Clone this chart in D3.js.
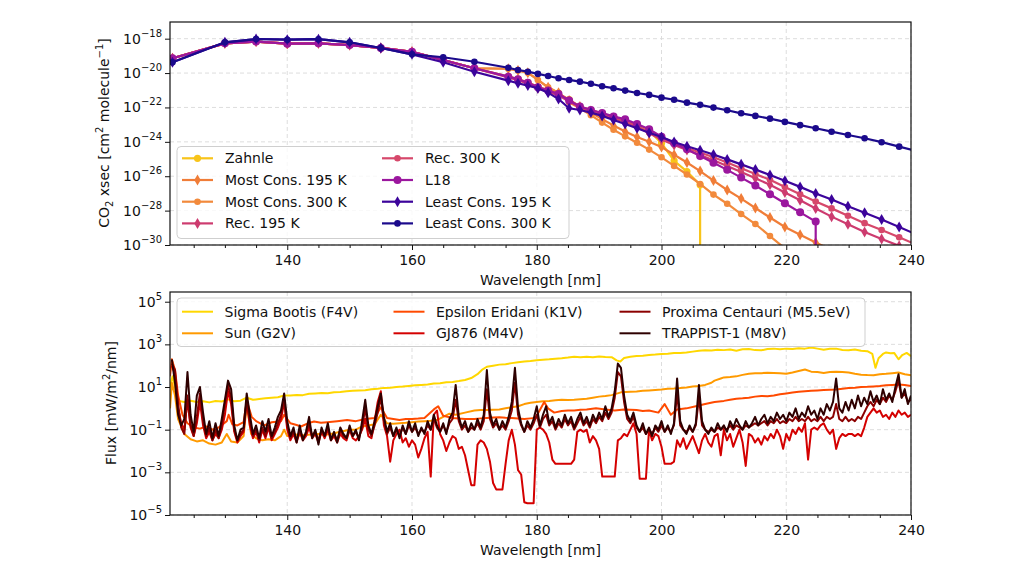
<!DOCTYPE html>
<html><head><meta charset="utf-8">
<script src="https://cdn.jsdelivr.net/npm/d3@7"></script>
<style>
body{margin:0;background:#fff}
text{font-family:"DejaVu Sans",sans-serif;fill:#111}
</style></head>
<body><svg id="c" width="1024" height="579"></svg>
<script>
// ---------------- DATA: top panel (log10 of CO2 cross section) ----------------
const Z = -Infinity; // zero cross section (drops off the log axis)
const xsecWl = [121.6,130,135,140,145,150,155,160,165,170,
  175.44,176.99,178.57,180.18,181.82,183.49,185.19,186.92,188.68,190.48,192.31,194.17,196.08,198.02,
  200,202.02,204.08,206.19,208.33,210.53,212.77,215.05,217.39,219.78,222.22,224.72,227.27,229.89,232.56,235.29,238.1,240.96];
const zahnle = [-19.14,-18.27,-18.17,-18.29,-18.27,-18.37,-18.54,-18.76,-19.24,-19.72,
  -20.2,-20.35,-20.55,-20.8,-21.0,-21.2,-21.55,-21.95,-22.15,-22.35,-22.55,-22.75,-23.05,-23.35,
  -24.08,-25.1,-25.73,-26.5,Z];
const mostCons195 = [-19.14,-18.27,-18.17,-18.29,-18.27,-18.37,-18.54,-18.76,-19.24,-19.72,
  -19.75,-19.85,-19.98,-20.4,-20.83,-21.15,-21.6,-21.95,-22.3,-22.68,-23.05,-23.4,-23.72,-24.0,
  -24.3,-24.75,-25.2,-25.7,-26.25,-26.8,-27.3,-27.85,-28.4,-28.95,-29.4,-29.85,-30.3];
const mostCons300 = [-19.14,-18.27,-18.17,-18.29,-18.27,-18.37,-18.54,-18.76,-19.24,-19.72,
  -19.75,-19.85,-19.98,-20.4,-20.83,-21.15,-21.7,-22.05,-22.45,-22.88,-23.3,-23.68,-24.05,-24.45,
  -24.9,-25.4,-25.9,-26.45,-27.07,-27.6,-28.2,-28.78,-29.48,-30.2];
const rec195 = [-19.14,-18.27,-18.17,-18.29,-18.27,-18.37,-18.54,-18.76,-19.24,-19.72,
  -20.25,-20.42,-20.62,-20.88,-21.08,-21.3,-21.65,-22.0,-22.2,-22.42,-22.62,-22.85,-23.12,-23.5,
  -23.87,-24.18,-24.47,-24.76,-25.07,-25.4,-25.75,-26.12,-26.5,-26.95,-27.4,-27.88,-28.35,-28.8,-29.25,-29.65,-30.05,-30.5];
const rec300 = [-19.14,-18.27,-18.17,-18.29,-18.27,-18.37,-18.54,-18.76,-19.24,-19.72,
  -20.2,-20.35,-20.55,-20.8,-21.0,-21.2,-21.55,-21.95,-22.15,-22.35,-22.55,-22.75,-23.08,-23.45,
  -23.8,-24.1,-24.36,-24.62,-24.9,-25.2,-25.53,-25.87,-26.21,-26.63,-27.05,-27.47,-27.87,-28.3,-28.73,-29.13,-29.55,-30.0];
const l18 = [-19.14,-18.27,-18.17,-18.29,-18.27,-18.37,-18.54,-18.76,-19.24,-19.72,
  -20.21,-20.36,-20.56,-20.83,-21.02,-21.22,-21.6,-21.95,-22.15,-22.32,-22.52,-22.69,-22.96,-23.27,
  -23.7,-24.08,-24.43,-24.82,-25.21,-25.63,-26.08,-26.54,-27.05,-27.57,-28.1,-28.64,Z];
const leastCons195 = [-19.37,-18.21,-18.02,-18.06,-18.03,-18.21,-18.54,-18.91,-19.37,-19.92,
  -20.44,-20.59,-20.73,-20.88,-21.14,-21.51,-22.05,-22.15,-22.30,-22.49,-22.73,-22.96,-23.21,-23.47,
  -23.72,-24.01,-24.26,-24.49,-24.74,-25.02,-25.31,-25.61,-25.93,-26.26,-26.62,-27.01,-27.35,-27.74,-28.12,-28.52,-28.95,-29.4];
const leastCons300 = [-19.37,-18.21,-18.02,-18.06,-18.03,-18.21,-18.54,-18.91,-19.08,-19.34,
  -19.69,-19.82,-19.92,-20.05,-20.17,-20.30,-20.40,-20.50,-20.62,-20.77,-20.88,-21.02,-21.16,-21.27,
  -21.43,-21.55,-21.72,-21.85,-22.01,-22.16,-22.34,-22.49,-22.65,-22.84,-23.03,-23.21,-23.41,-23.60,-23.79,-24.02,-24.28,-24.55];
const xsecNames = ["Zahnle","Most Cons. 195 K","Most Cons. 300 K","Rec. 195 K","Rec. 300 K","L18","Least Cons. 195 K","Least Cons. 300 K"];

// ---------------- DATA: bottom panel (log10 flux, mW/m2/nm) ----------------
const fluxWl = [121.5,122,122.5,123,123.5,124,124.5,125,125.5,126,
126.5,127,127.5,128,128.5,129,129.5,130,130.5,131,
131.5,132,132.5,133,133.5,134,134.5,135,135.5,136,
136.5,137,137.5,138,138.5,139,139.5,140,140.5,141,
141.5,142,142.5,143,143.5,144,144.5,145,145.5,146,
146.5,147,147.5,148,148.5,149,149.5,150,150.5,151,
151.5,152,152.5,153,153.5,154,154.5,155,155.5,156,
156.5,157,157.5,158,158.5,159,159.5,160,160.5,161,
161.5,162,162.5,163,163.5,164,164.5,165,165.5,166,
166.5,167,167.5,168,168.5,169,169.5,170,170.5,171,
171.5,172,172.5,173,173.5,174,174.5,175,175.5,176,
176.5,177,177.5,178,178.5,179,179.5,180,180.5,181,
181.5,182,182.5,183,183.5,184,184.5,185,185.5,186,
186.5,187,187.5,188,188.5,189,189.5,190,190.5,191,
191.5,192,192.5,193,193.5,194,194.5,195,195.5,196,
196.5,197,197.5,198,198.5,199,199.5,200,200.5,201,
201.5,202,202.5,203,203.5,204,204.5,205,205.5,206,
206.5,207,207.5,208,208.5,209,209.5,210,210.5,211,
211.5,212,212.5,213,213.5,214,214.5,215,215.5,216,
216.5,217,217.5,218,218.5,219,219.5,220,220.5,221,
221.5,222,222.5,223,223.5,224,224.5,225,225.5,226,
226.5,227,227.5,228,228.5,229,229.5,230,230.5,231,
231.5,232,232.5,233,233.5,234,234.5,235,235.5,236,
236.5,237,237.5,238,238.5,239,239.5,240];
const trappist1 = [2.3,1.2,-0.3,-0.8,-0.5,1.7,-0.3,-1.1,0.6,1.0,
-0.2,-1.2,-0.6,-1.4,-0.7,-1.3,-0.5,0.4,1.3,0.9,
-0.8,-1.5,-1.0,-0.9,0.7,-0.3,-1.2,-0.8,-1.4,-0.6,
-1.1,-0.5,-1.3,-0.9,-0.4,-0.1,0.7,-0.6,-1.3,-0.9,
-1.6,-0.8,-1.5,-1.1,-0.4,-1.4,-1.0,-1.7,-0.9,-1.3,
-0.7,-1.5,-1.1,-1.6,-0.9,-1.2,-1.4,-0.8,-1.3,-1.0,
-1.5,-0.6,0.4,-0.8,-1.2,-0.6,0.1,0.7,-0.4,-1.1,
-0.7,-1.3,-0.9,-1.4,-0.8,-1.2,-0.6,-1.1,-0.7,-1.3,
-0.9,-1.2,-0.6,-1.0,-0.3,-0.8,-1.1,-0.7,-1.2,-0.5,
-0.2,1.1,-0.4,-0.9,-0.6,-1.1,-0.7,-1.0,-0.5,-0.9,
-0.3,1.8,-0.2,-0.8,-0.5,-1.0,-0.6,-0.9,-0.4,0.3,
1.9,0.0,-0.7,-1.1,-0.6,-0.9,-0.5,0.1,-0.8,-0.3,
0.1,-0.7,-0.4,-0.9,-0.5,-0.8,-0.3,-0.7,-0.4,-0.9,
-0.5,-0.2,-0.7,-0.4,-0.8,-0.3,-0.6,-0.2,-0.5,0.1,
-0.4,0.0,0.8,2.1,1.9,0.6,-0.3,-0.6,-0.2,-0.8,
-1.1,-0.7,-1.2,-0.9,-1.3,-0.8,-1.0,-0.6,-1.1,-0.8,
-1.2,-0.7,1.4,-0.6,-1.0,-1.2,-0.8,-1.1,-0.7,1.1,
-0.6,-1.0,-1.2,-0.9,-1.1,-0.7,-1.0,-0.8,-1.1,-0.6,
-0.9,-0.5,-0.8,-1.0,-0.6,-0.9,-0.7,-0.4,-0.8,-0.5,
-0.3,-0.7,-0.4,-0.6,-0.2,-0.5,-0.3,-0.6,-0.2,-0.4,
0.0,-0.5,-0.2,-0.4,0.1,-0.3,-0.1,-0.5,0.0,-0.3,
0.2,-0.1,0.3,1.4,0.0,-0.2,0.3,-0.1,0.4,0.0,
0.6,0.1,0.5,0.2,0.8,0.3,0.6,0.2,0.9,0.4,
0.7,0.3,1.0,1.6,0.5,0.9,0.2,0.6];
const proxima = [2.1,1.8,0.2,-0.9,-1.2,0.6,-0.8,-1.3,-0.4,0.7,
-0.6,-1.3,-0.9,-1.5,-1.0,-1.4,-0.8,0.2,1.1,0.5,
-1.0,-1.5,-1.2,-1.0,0.4,-0.6,-1.3,-1.0,-1.5,-0.9,
-1.3,-0.8,-1.4,-1.1,-0.7,-0.3,0.4,-0.8,-1.4,-1.1,
-1.5,-1.0,-1.4,-1.2,-0.7,-1.3,-1.1,-1.5,-1.0,-1.3,
-0.9,-1.4,-1.2,-1.5,-1.0,-1.3,-1.4,-1.0,-1.3,-1.1,
-1.4,-0.9,0.0,-1.0,-1.3,-0.8,-0.2,0.5,-0.6,-1.2,
-0.9,-1.3,-1.0,-1.3,-0.9,-1.2,-0.8,-1.1,-0.9,-1.2,
-1.0,-1.1,-0.8,-1.0,-0.5,-0.9,-1.1,-0.8,-1.1,-0.7,
-0.5,0.4,-0.6,-1.0,-0.8,-1.1,-0.9,-1.0,-0.7,-1.0,
-0.6,0.9,-0.5,-0.9,-0.7,-1.0,-0.8,-1.0,-0.6,-0.1,
1.2,-0.3,-0.8,-1.1,-0.8,-1.0,-0.7,-0.3,-0.9,-0.5,
-0.3,-0.8,-0.6,-1.0,-0.7,-0.9,-0.5,-0.8,-0.6,-1.0,
-0.7,-0.4,-0.8,-0.6,-0.9,-0.5,-0.7,-0.4,-0.6,-0.2,
-0.5,-0.2,0.5,1.7,1.5,0.3,-0.5,-0.7,-0.4,-0.9,
-1.1,-0.9,-1.2,-1.0,-1.2,-0.9,-1.1,-0.8,-1.1,-0.9,
-1.1,-0.8,0.7,-0.8,-1.0,-1.1,-0.9,-1.1,-0.8,0.5,
-0.8,-1.0,-1.1,-1.0,-1.1,-0.9,-1.0,-0.9,-1.0,-0.8,
-1.0,-0.8,-0.9,-1.0,-0.8,-0.9,-0.8,-0.7,-0.8,-0.7,
-0.6,-0.8,-0.6,-0.7,-0.5,-0.7,-0.6,-0.7,-0.5,-0.6,
-0.4,-0.6,-0.5,-0.6,-0.4,-0.6,-0.5,-0.6,-0.4,-0.6,
-0.4,-0.5,-0.4,0.2,-0.5,-0.6,-0.4,-0.6,-0.5,-0.6,
-0.4,-0.5,-0.2,0.1,0.3,0.1,0.4,0.2,0.5,0.3,
0.6,0.4,0.8,1.3,0.5,0.7,0.3,0.4];
const gj876 = [2.0,1.6,0.0,-0.7,-1.0,0.4,-0.9,-1.3,-0.7,0.3,
-0.8,-1.4,-1.1,-1.5,-1.2,-1.4,-1.0,-0.3,0.8,0.2,
-1.1,-1.6,-1.3,-1.1,0.3,-0.8,-1.4,-1.1,-1.6,-1.0,
-1.4,-0.9,-1.5,-1.2,-0.9,-0.5,0.3,-1.0,-1.5,-1.2,
-1.6,-1.1,-1.5,-1.3,-0.9,-1.4,-1.2,-1.6,-1.1,-1.4,
-1.0,-1.5,-1.3,-1.6,-1.2,-1.4,-1.5,-1.0,-1.4,-1.5,
-1.3,-1.0,-0.5,-1.3,-1.4,-0.6,0.3,0.8,-0.8,-1.3,
-2.5,-1.5,-1.2,-1.0,-1.6,-1.4,-1.8,-1.5,-1.7,-2.3,
-1.9,-1.4,-1.1,-3.2,-0.3,-0.1,-1.2,-1.5,-2.0,-1.6,
-1.3,-1.4,-1.9,-1.8,-2.2,-2.9,-3.6,-3.6,-1.7,-1.5,
-1.6,-1.9,-2.5,-3.5,-3.8,-3.8,-3.8,-2.6,-1.5,-1.0,
-1.7,-2.9,-3.1,-4.4,-4.45,-4.45,-4.45,-1.0,-0.9,-1.0,
-1.2,-1.6,-2.4,-2.6,-2.6,-2.6,-2.6,-2.6,-2.6,-2.4,
-1.1,-1.0,-1.1,-1.0,-1.6,-1.3,-1.5,-1.9,-3.2,-3.2,
-3.2,-3.2,-3.2,-1.5,-1.4,-1.2,-1.3,-1.0,-0.7,-1.2,
-3.3,-3.3,-3.3,-1.0,-1.5,-1.2,-1.3,-1.8,-2.6,-2.6,
-2.6,-2.5,-1.5,-1.8,-1.4,-1.9,-1.6,-1.3,-1.7,-2.1,
-1.5,-1.2,-1.6,-1.8,-1.3,-1.2,-2.2,-1.0,-1.5,-1.2,
-1.8,-1.4,-1.0,-1.6,-2.7,-1.2,-1.3,-1.6,-1.4,-1.7,
-1.3,-1.5,-1.2,-1.4,-1.0,-1.3,-1.9,-1.2,-1.5,-1.0,
-1.2,-0.9,-1.1,-0.7,-2.4,-1.0,-0.9,-1.0,-0.8,-0.7,
-1.0,-1.2,-1.0,-1.9,-1.4,-1.2,-1.3,-1.2,-1.2,-1.3,
-1.2,-1.3,-0.9,-0.4,-0.2,0.0,-0.2,-0.1,-0.4,-0.3,
-0.5,-0.2,-0.4,-0.1,-0.3,-0.2,-0.4,-0.3];
const sigmaBootis = [[121.2,1.0],[121.6,1.5],[122.0,1.0],[122.6,0.35],[123.5,0.3],[124.5,0.36],[125.5,0.3],[126.5,0.33],[127.5,0.28],[128.5,0.34],[129.5,0.32],[130.5,0.42],[131.5,0.33],[132.5,0.36],[133.5,0.5],[134.5,0.4],[135.5,0.44],[136.5,0.47],[137.5,0.5],[138.5,0.52],[139.5,0.6],[140.5,0.6],[141.5,0.63],[142.5,0.62],[143.5,0.68],[144.5,0.7],[145.5,0.72],[146.5,0.71],[147.5,0.76],[148.5,0.77],[149.5,0.8],[150.5,0.82],[151.5,0.84],[152.5,0.85],[153.5,0.9],[154.5,0.92],[155.5,0.96],[156.5,0.97],[157.5,1.0],[158.5,1.02],[159.5,1.05],[160.5,1.08],[161.5,1.1],[162.5,1.12],[163.5,1.16],[164.5,1.18],[165.5,1.22],[166.5,1.24],[167.5,1.28],[168.5,1.33],[169.5,1.42],[170.5,1.6],[171.2,1.8],[172,1.95],[173,2.0],[174,2.05],[175,2.07],[176,2.12],[177,2.16],[178,2.2],[179,2.22],[180,2.26],[181,2.28],[182,2.3],[183,2.33],[184,2.35],[185,2.38],[186,2.42],[187,2.4],[188,2.42],[189,2.4],[190,2.43],[191,2.41],[192,2.4],[192.8,2.25],[193.4,2.2],[194,2.36],[195,2.42],[196,2.45],[197,2.47],[198,2.5],[199,2.52],[200,2.55],[201,2.56],[202,2.6],[203,2.6],[204,2.62],[205,2.66],[206,2.7],[207,2.72],[208,2.71],[209,2.75],[210,2.73],[211,2.76],[212,2.7],[213,2.77],[214,2.78],[215,2.73],[216,2.72],[217,2.78],[218,2.8],[219,2.77],[220,2.8],[221,2.78],[222,2.82],[223,2.8],[224,2.85],[225,2.8],[226,2.75],[227,2.79],[228,2.8],[229,2.74],[230,2.72],[231,2.76],[232,2.7],[233,2.68],[233.8,2.55],[234.3,1.9],[234.8,2.35],[235.5,2.55],[236,2.62],[236.7,2.58],[237.3,2.6],[238,2.3],[238.6,2.5],[239.3,2.6],[240,2.45]];
const sun = [[121.2,0.0],[121.5,1.2],[122.0,0.6],[122.5,-0.5],[123.5,-1.2],[124.5,-1.45],[125.5,-1.55],[126.5,-1.5],[127.5,-1.65],[128.5,-1.7],[129.5,-1.6],[130.3,-1.2],[131,-1.55],[132,-1.6],[133,-1.3],[133.5,0.2],[134.2,-1.2],[135,-1.4],[136,-1.5],[137,-1.45],[138,-1.5],[139,-1.3],[139.5,-1.0],[140,-1.3],[141,-1.2],[142,-1.27],[143,-1.25],[144,-1.22],[145,-1.2],[146,-1.24],[147,-1.2],[148.5,-1.1],[150,-1.0],[151,-1.0],[152,-0.85],[153,-0.8],[154,-0.75],[155,-0.3],[156,-0.7],[157,-0.72],[158,-0.7],[159,-0.68],[160,-0.65],[161,-0.62],[162,-0.6],[163,-0.58],[164,-0.55],[165,-0.4],[166,-0.25],[167,-0.3],[168.5,-0.2],[170,-0.1],[171,-0.08],[172,-0.08],[173,-0.06],[174,-0.05],[175,0.0],[176,0.05],[177,0.1],[178,0.2],[179,0.26],[180,0.3],[181,0.33],[182,0.35],[183,0.38],[184,0.4],[185,0.39],[186,0.4],[187,0.43],[188,0.45],[189,0.5],[190,0.55],[191,0.58],[192,0.62],[193.5,0.75],[195,0.78],[196,0.79],[197,0.82],[198,0.84],[199,0.86],[200,0.88],[201,0.92],[202,0.93],[203,0.95],[204,0.98],[205,1.02],[206,1.05],[207,1.1],[208,1.2],[208.5,1.3],[209.5,1.4],[210,1.45],[211,1.47],[212,1.5],[213,1.57],[214,1.62],[215,1.64],[216,1.65],[217,1.67],[218,1.66],[219,1.64],[220,1.62],[221,1.68],[222,1.75],[223,1.82],[224,1.72],[225,1.7],[226,1.66],[227,1.7],[228,1.72],[229,1.7],[230,1.68],[231,1.62],[232,1.58],[233,1.56],[234,1.55],[235,1.6],[236,1.62],[237,1.65],[238,1.68],[239,1.6],[240,1.55]];
const epsEridani = [[121.2,1.5],[121.5,2.3],[122.0,1.8],[122.5,0.6],[123.2,-0.3],[124,-0.7],[125,-0.9],[126,-0.95],[127,-0.85],[128,-1.0],[129,-0.9],[130.3,-0.6],[130.6,-0.3],[131.2,-0.75],[132,-0.8],[133,-0.65],[133.5,0.35],[134.3,-0.4],[135,-0.6],[136.3,-0.8],[137.5,-0.65],[139,-0.6],[139.5,-0.3],[140.5,-0.7],[141.5,-0.78],[142.2,-0.85],[143.3,-0.7],[144.3,-0.62],[145.4,-0.68],[146.4,-0.65],[148,-0.6],[149.6,-0.55],[151,-0.6],[152.5,-0.5],[154,-0.45],[155,0.05],[156,-0.45],[157,-0.5],[158,-0.55],[159,-0.5],[160,-0.5],[161,-0.48],[162,-0.45],[163.5,-0.05],[164.2,0.1],[165,-0.35],[166.5,-0.45],[167.5,-0.48],[168.5,-0.5],[170,-0.5],[171,-0.47],[172,-0.45],[173,-0.43],[174,-0.42],[175,-0.44],[176,-0.45],[177,-0.48],[178,-0.5],[179,-0.47],[179.8,-0.45],[181.2,0.3],[181.8,0.0],[182.8,-0.2],[184,-0.12],[185,-0.1],[186,-0.1],[187,-0.07],[188,-0.05],[189.5,0.0],[191,-0.05],[192.5,-0.1],[194,-0.05],[195,-0.06],[196,-0.08],[197,-0.12],[198,-0.1],[199.5,-0.2],[200.5,0.2],[201.5,-0.3],[202.5,-0.05],[204,0.0],[205.5,0.1],[207,0.2],[208.5,0.3],[210,0.35],[211,0.4],[212,0.45],[213,0.47],[214,0.5],[215,0.55],[216,0.58],[217,0.57],[218,0.6],[219,0.66],[220,0.7],[221,0.74],[222,0.78],[223,0.8],[224,0.82],[225,0.84],[226,0.86],[227,0.87],[228,0.88],[229,0.92],[230,0.95],[231,0.97],[232,1.0],[233,1.01],[234,1.03],[235,1.05],[236,1.08],[237,1.1],[238,1.12],[239,1.1],[240,1.05]];
const fluxNames = ["Sigma Bootis (F4V)","Sun (G2V)","Epsilon Eridani (K1V)","GJ876 (M4V)","Proxima Centauri (M5.5eV)","TRAPPIST-1 (M8V)"];

// tick values
const xMajor = [140,160,180,200,220,240];
const xMinor = [125,130,135,145,150,155,165,170,175,185,190,195,205,210,215,225,230,235];
const yTopExp = [-18,-20,-22,-24,-26,-28,-30];
const yBotExp = [5,3,1,-1,-3,-5];

// ---------------- STYLE ----------------
const xsecColors = ["#f8c41a","#f07d38","#f28a3c","#cd3b6f","#d6486b","#9b179e","#3c049b","#1b0a8c"];
const xsecMarkers = ["o","d","h","d","h","O","d","h"];
const fluxColors = ["#ffd700","#ff9a00","#ff4a00","#d40000","#8b0000","#2e0000"];

const svg = d3.select("#c");
svg.append("rect").attr("width",1024).attr("height",579).attr("fill","#fff");
const L = 170, R = 911;
const P1 = {t:22, b:245}, P2 = {t:292, b:515};
const x = d3.scaleLinear().domain([121.2,240]).range([L,R]);
const y1 = d3.scaleLog().domain([1e-30, Math.pow(10,-17.03)]).range([P1.b,P1.t]);
const y2 = d3.scaleLog().domain([1e-5, Math.pow(10,5.455)]).range([P2.b,P2.t]);

const defs = svg.append("defs");
[["c1",P1],["c2",P2]].forEach(([id,P])=>{
  defs.append("clipPath").attr("id",id).append("rect")
    .attr("x",L).attr("y",P.t).attr("width",R-L).attr("height",P.b-P.t);
});

function grid(P, y, exps){
  const g = svg.append("g").attr("stroke","#d9d9d9").attr("stroke-width",0.9).attr("stroke-dasharray","4,3");
  xMajor.forEach(v=>g.append("line").attr("x1",x(v)).attr("x2",x(v)).attr("y1",P.t).attr("y2",P.b));
  exps.forEach(e=>g.append("line").attr("x1",L).attr("x2",R).attr("y1",y(Math.pow(10,e))).attr("y2",y(Math.pow(10,e))));
}
function axes(P, y, exps){
  const gx = svg.append("g").attr("transform",`translate(0,${P.b})`)
    .call(d3.axisBottom(x).tickValues(xMajor).tickSize(5).tickSizeOuter(0).tickPadding(5).tickFormat(d3.format("d")));
  gx.select(".domain").remove();
  gx.selectAll("text").attr("font-size",14).attr("font-family","DejaVu Sans").attr("fill","#111");
  gx.selectAll("line").attr("stroke","#111");
  const gm = svg.append("g").attr("transform",`translate(0,${P.b})`)
    .call(d3.axisBottom(x).tickValues(xMinor).tickSize(3).tickSizeOuter(0).tickFormat(""));
  gm.select(".domain").remove();
  gm.selectAll("line").attr("stroke","#111");
  const gy = svg.append("g").attr("transform",`translate(${L},0)`)
    .call(d3.axisLeft(y).tickValues(exps.map(e=>Math.pow(10,e))).tickSize(5).tickSizeOuter(0).tickFormat(""));
  gy.select(".domain").remove();
  gy.selectAll("line").attr("stroke","#111");
  exps.forEach(e=>{
    const t = svg.append("text").attr("x",L-8).attr("y",y(Math.pow(10,e))+5)
      .attr("text-anchor","end").attr("font-size",14);
    t.append("tspan").text("10");
    t.append("tspan").attr("dy",-7).attr("font-size",10).text((e<0?"\u2212":"")+Math.abs(e));
  });
  svg.append("rect").attr("x",L).attr("y",P.t).attr("width",R-L).attr("height",P.b-P.t)
    .attr("fill","none").attr("stroke","#111").attr("stroke-width",1.2);
}

function drawMarker(g, m, cx, cy, color){
  if(m==="d") g.append("path").attr("d","M0,-5.5L3.2,0L0,5.5L-3.2,0Z").attr("transform",`translate(${cx},${cy})`).attr("fill",color);
  else g.append("circle").attr("cx",cx).attr("cy",cy).attr("r", m==="O"?4:(m==="o"?3.6:3.3)).attr("fill",color);
}

// ---------------- TOP PANEL ----------------
grid(P1, y1, yTopExp);
const topSeries = [zahnle,mostCons195,mostCons300,rec195,rec300,l18,leastCons195,leastCons300];
const gTop = svg.append("g").attr("clip-path","url(#c1)");
topSeries.forEach((vals,si)=>{
  const pts = [];
  vals.forEach((v,i)=>{
    if(v===Z) pts.push([xsecWl[i-1], 1e-45]);
    else pts.push([xsecWl[i], Math.pow(10,v)]);
  });
  gTop.append("path").datum(pts)
    .attr("d", d3.line().x(d=>x(d[0])).y(d=>y1(d[1])))
    .attr("fill","none").attr("stroke",xsecColors[si]).attr("stroke-width",2.2);
  const gm = gTop.append("g");
  vals.forEach((v,i)=>{ if(v!==Z) drawMarker(gm, xsecMarkers[si], x(xsecWl[i]), y1(Math.pow(10,v)), xsecColors[si]); });
});
axes(P1, y1, yTopExp);

// top legend
const lg1 = svg.append("g");
lg1.append("rect").attr("x",177).attr("y",146.5).attr("width",392).attr("height",92).attr("rx",4)
  .attr("fill","#fff").attr("fill-opacity",0.8).attr("stroke","#cfcfcf");
xsecNames.forEach((n,i)=>{
  const col = Math.floor(i/4), row = i%4;
  const hx = col===0?182:382, ty = 158.3 + row*21.7;
  lg1.append("line").attr("x1",hx).attr("x2",hx+31).attr("y1",ty).attr("y2",ty)
    .attr("stroke",xsecColors[i]).attr("stroke-width",2.2);
  drawMarker(lg1, xsecMarkers[i], hx+15.5, ty, xsecColors[i]);
  lg1.append("text").attr("x",hx+43).attr("y",ty+5).attr("font-size",14).text(n);
});

// axis labels top
svg.append("text").attr("x",(L+R)/2).attr("y",285).attr("text-anchor","middle").attr("font-size",14).text("Wavelength [nm]");
(function(){
  const t = svg.append("text").attr("transform","translate(109,133) rotate(-90)").attr("text-anchor","middle").attr("font-size",14);
  t.append("tspan").text("CO");
  t.append("tspan").attr("dy",4).attr("font-size",10).text("2");
  t.append("tspan").attr("dy",-4).text(" xsec [cm");
  t.append("tspan").attr("dy",-6).attr("font-size",10).text("2");
  t.append("tspan").attr("dy",6).text(" molecule");
  t.append("tspan").attr("dy",-6).attr("font-size",10).text("\u22121");
  t.append("tspan").attr("dy",6).text("]");
})();

// ---------------- BOTTOM PANEL ----------------
grid(P2, y2, yBotExp);
const gBot = svg.append("g").attr("clip-path","url(#c2)");
const botSeries = [
  sigmaBootis, sun, epsEridani,
  fluxWl.map((w,i)=>[w,gj876[i]]),
  fluxWl.map((w,i)=>[w,proxima[i]]),
  fluxWl.map((w,i)=>[w,trappist1[i]])
];
botSeries.forEach((pts,si)=>{
  gBot.append("path").datum(pts)
    .attr("d", d3.line().x(d=>x(d[0])).y(d=>y2(Math.pow(10,d[1]))))
    .attr("fill","none").attr("stroke",fluxColors[si]).attr("stroke-width",2).attr("stroke-linejoin","round");
});
axes(P2, y2, yBotExp);

const lg2 = svg.append("g");
lg2.append("rect").attr("x",177).attr("y",298).attr("width",688).attr("height",48.5).attr("rx",4)
  .attr("fill","#fff").attr("fill-opacity",0.8).attr("stroke","#cfcfcf");
fluxNames.forEach((n,i)=>{
  const col = Math.floor(i/2), row = i%2;
  const hx = [182,393.5,619.5][col], ty = 311.7 + row*21.6;
  lg2.append("line").attr("x1",hx).attr("x2",hx+31).attr("y1",ty).attr("y2",ty)
    .attr("stroke",fluxColors[i]).attr("stroke-width",2);
  lg2.append("text").attr("x",hx+42.5).attr("y",ty+5).attr("font-size",14).text(n);
});

svg.append("text").attr("x",(L+R)/2).attr("y",555).attr("text-anchor","middle").attr("font-size",14).text("Wavelength [nm]");
(function(){
  const t = svg.append("text").attr("transform","translate(116,403) rotate(-90)").attr("text-anchor","middle").attr("font-size",14);
  t.append("tspan").text("Flux [mW/m");
  t.append("tspan").attr("dy",-6).attr("font-size",10).text("2");
  t.append("tspan").attr("dy",6).text("/nm]");
})();
</script>
</body></html>
